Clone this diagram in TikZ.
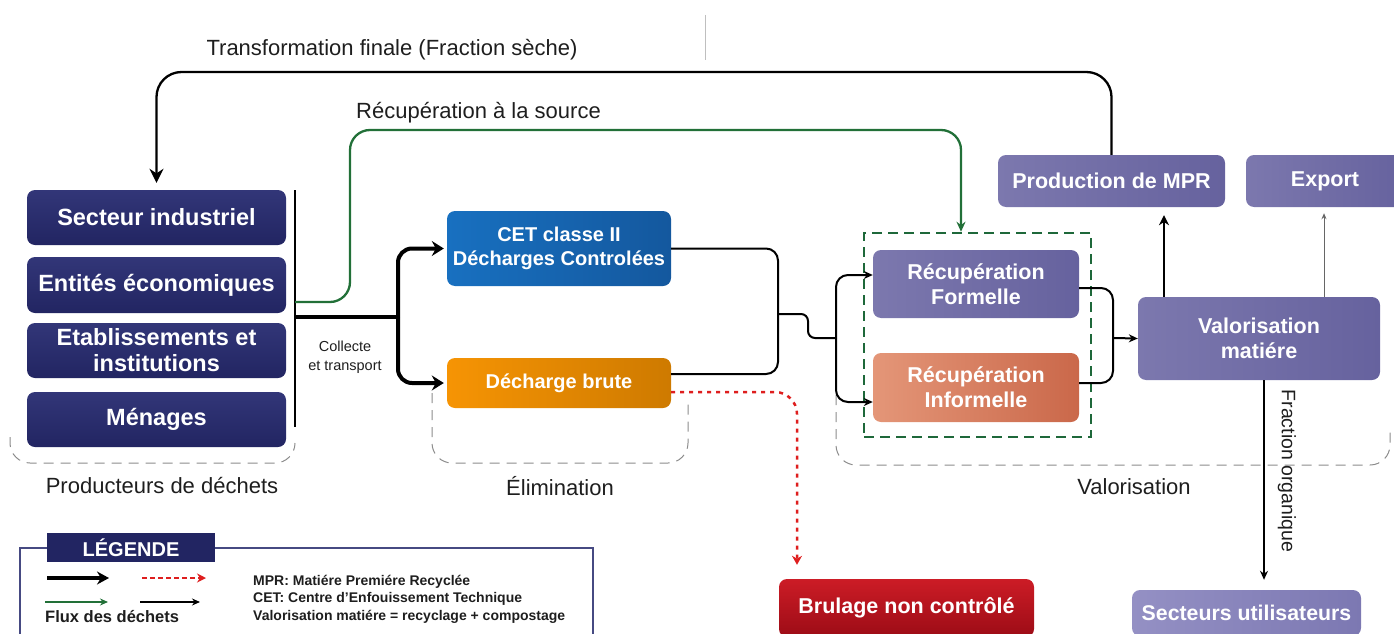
\documentclass[tikz,border=0pt]{standalone}
\usepackage{fontspec}
\setmainfont{Liberation Sans}
\usetikzlibrary{arrows.meta,calc}
\definecolor{navyA}{RGB}{50,54,120}
\definecolor{navyB}{RGB}{34,37,98}
\definecolor{blueA}{RGB}{24,112,192}
\definecolor{blueB}{RGB}{20,88,158}
\definecolor{orA}{RGB}{246,148,4}
\definecolor{orB}{RGB}{206,122,0}
\definecolor{puA}{RGB}{124,120,174}
\definecolor{puB}{RGB}{102,98,158}
\definecolor{saA}{RGB}{228,150,120}
\definecolor{saB}{RGB}{202,104,74}
\definecolor{reA}{RGB}{204,28,38}
\definecolor{reB}{RGB}{156,12,22}
\definecolor{luA}{RGB}{148,144,196}
\definecolor{luB}{RGB}{124,120,178}
\definecolor{gflow}{RGB}{34,112,56}
\definecolor{gbox}{RGB}{30,104,58}
\definecolor{rflow}{RGB}{222,30,30}
\definecolor{brk}{RGB}{140,140,140}
\definecolor{legline}{RGB}{70,74,130}
\definecolor{txt}{RGB}{30,30,30}
\newcommand\myfs[2]{\fontsize{#1}{#2}\selectfont}
\begin{document}
\begin{tikzpicture}[x=1pt,y=-1pt,
  basebox/.style={rounded corners=8pt, text=white, align=center, inner sep=0pt},
  navybox/.style={basebox, shade, top color=navyA, bottom color=navyB, minimum width=259pt, minimum height=55pt, font=\myfs{23.5}{26}\bfseries},
  bluebox/.style={basebox, shade, left color=blueA, right color=blueB, minimum width=224pt, font=\myfs{20}{24}\bfseries},
  orbox/.style={basebox, shade, left color=orA, right color=orB, minimum width=224pt, font=\myfs{20}{24}\bfseries},
  pubox/.style={basebox, shade, left color=puA, right color=puB, font=\myfs{21.5}{25}\bfseries},
  sabox/.style={basebox, shade, left color=saA, right color=saB, font=\myfs{21.5}{25}\bfseries},
  rebox/.style={basebox, shade, top color=reA, bottom color=reB, font=\myfs{21.5}{25}\bfseries},
  lubox/.style={basebox, shade, left color=luA, right color=luB, font=\myfs{21.3}{25}\bfseries},
  lbl/.style={text=txt, inner sep=0pt, font=\myfs{22}{26}},
  flow/.style={line width=2pt, draw=black},
  tip/.style={-{Stealth[length=9pt,width=8pt]}},
  bigtip/.style={-{Stealth[length=12pt,width=15pt,inset=4pt]}},
  bracketline/.style={draw=brk, line width=1pt, dash pattern=on 10pt off 7pt, rounded corners=20pt},
]
\useasboundingbox (0,0) rectangle (1394,634);

% faint artifact line
\draw[black!25, line width=0.8pt] (705,15) -- (705,60);

% grouping brackets
\draw[bracketline] (10,437) -- (10,463) -- (295,463) -- (295,443);
\draw[bracketline] (432,393) -- (432,463) -- (688,463) -- (688,403);
\draw[bracketline] (836,395) -- (836,465) -- (1390,465) -- (1390,430);

% producers
\node[navybox] (sec) at (156.5,217.5) {Secteur industriel};
\node[navybox, minimum height=56pt] (ent) at (156.5,285) {Entités économiques};
\node[navybox] (eta) at (156.5,350.5) {Etablissements et\\institutions};
\node[navybox] (men) at (156.5,419.5) {Ménages};

\coordinate (bartop) at (295,190);
\coordinate (barbot) at (295,427);
\coordinate (gstart) at (295,302);
\coordinate (cstart) at (295,317);
\draw[line width=2.5pt] (bartop) -- (barbot);

% elimination
\node[bluebox, minimum height=75pt] (cet) at (559,248.5) {CET classe II\\Décharges Controlées};
\node[orbox, minimum height=50pt] (dec) at (559,383) {Décharge brute};

% valorisation
\node[draw=gbox, line width=2.5pt, dash pattern=on 10pt off 6pt, minimum width=227pt, minimum height=204pt, inner sep=0pt] (gb) at (977.5,335) {};
\node[pubox, minimum width=206pt, minimum height=68pt] (rf) at (976,284) {Récupération\\Formelle};
\node[sabox, minimum width=206pt, minimum height=69pt] (ri) at (976,387.5) {Récupération\\Informelle};
\node[pubox, minimum width=242pt, minimum height=83pt] (val) at (1259,338.5) {Valorisation\\matiére};
\node[pubox, minimum width=227pt, minimum height=52pt] (mpr) at (1111.5,181) {Production de MPR};
\node[pubox, minimum width=158pt, minimum height=52pt] (exp) at (1325,181) {Export};
\node[rebox, minimum width=255pt, minimum height=58pt] (bru) at (906.5,608) {Brulage non contrôlé};
\node[lubox, minimum width=229pt, minimum height=46pt] (sut) at (1246.5,613) {Secteurs utilisateurs};

% labels
\node[lbl] (ltrans) at (392,50) {Transformation finale (Fraction sèche)};
\node[lbl] (lrec) at (478.5,113) {Récupération à la source};
\node[lbl] (lprod) at (162,486) {Producteurs de déchets};
\node[lbl] (lelim) at (560,486) {Élimination};
\node[lbl] (lval) at (1134,487) {Valorisation};
\node[text=txt, inner sep=0pt, align=center, font=\myfs{14.5}{19}] (lcol) at (345,357) {Collecte\\et transport};
\node[lbl, rotate=-90, font=\myfs{19.5}{22}] (lfrac) at (1287,471) {Fraction organique};

% transformation finale loop
\coordinate (ttop) at (0,72);
\draw[line width=2.3pt, -{Stealth[length=14pt,width=14pt]}, rounded corners=25pt, shorten >=7pt] (mpr.north) -- (mpr.north |- ttop) -| (sec.north);

% green source recovery
\coordinate (gx) at (961,0);
\draw[draw=gflow, line width=2.3pt, rounded corners=20pt, -{Stealth[length=10pt,width=9pt]}] (gstart) -- (350,302) -- (350,130) -- (961,130) -- (gb.north -| gx);

% collecte
\coordinate (cj) at (398,317);
\draw[line width=4pt] (cstart) -- (cj);
\draw[line width=4pt, bigtip, rounded corners=14pt, shorten >=3pt] (cj) |- (cet.west);
\draw[line width=4pt, bigtip, rounded corners=14pt, shorten >=3pt] (cj) |- (dec.west);

% elimination to recuperation
\coordinate (j1) at (778,314);
\coordinate (j2) at (836,338);
\draw[flow, rounded corners=12pt] (cet.east) -| (j1);
\draw[flow, rounded corners=12pt] ([yshift=9pt]dec.east) -| (j1);
\draw[flow, rounded corners=7pt] (j1) -- (808,314) -- (808,338) -- (j2);
\draw[flow, tip, rounded corners=12pt] (j2) |- ([yshift=9pt]rf.west);
\draw[flow, tip, rounded corners=12pt] (j2) |- ([yshift=-14.5pt]ri.west);

% recuperation to valorisation
\coordinate (j3) at (1113,338);
\draw[flow, rounded corners=12pt] ([yshift=-4pt]rf.east) -| (j3);
\draw[flow, rounded corners=12pt] ([yshift=4.5pt]ri.east) -| (j3);
\draw[flow, tip] (j3) -- (val.west);

% valorisation outputs
\draw[line width=2.5pt, -{Stealth[length=10pt,width=10pt]}, shorten >=8pt] ([xshift=-95pt]val.north) -- ([xshift=52.5pt]mpr.south);
\draw[line width=1pt, draw=black!60, -{Stealth[length=6pt,width=5pt]}, shorten >=6pt] ([xshift=65pt]val.north) -- ([xshift=-1pt]exp.south);
\draw[flow, tip, shorten >=10pt] ([xshift=5pt]val.south) -- ([xshift=17.5pt]sut.north);

% red uncontrolled burning
\draw[draw=rflow, line width=2.5pt, dash pattern=on 4pt off 5pt, rounded corners=22pt, shorten >=14pt, -{Stealth[length=9pt,width=10pt]}] ([yshift=-9pt]dec.east) -| ([xshift=-109.5pt]bru.north);

% legend
\draw[draw=legline, line width=1.2pt] (20,634) -- (20,548) -- (593,548) -- (593,634);
\node[basebox, rounded corners=0pt, fill=navyB, minimum width=168pt, minimum height=29pt, font=\myfs{20}{24}\bfseries] (leg) at (131,547.5) {LÉGENDE};
\coordinate (a1s) at (47,578);
\coordinate (a1e) at (109,578);
\coordinate (a2s) at (142,578);
\coordinate (a2e) at (206,578);
\coordinate (a3s) at (45,602);
\coordinate (a3e) at (108,602);
\coordinate (a4s) at (140,602);
\coordinate (a4e) at (200,602);
\draw[line width=4pt, -{Stealth[length=12pt,width=13pt]}] (a1s) -- (a1e);
\draw[draw=rflow, line width=2pt, dash pattern=on 5pt off 3pt, -{Stealth[length=9pt,width=9pt]}] (a2s) -- (a2e);
\draw[draw=gflow, line width=2pt, -{Stealth[length=8pt,width=7pt]}] (a3s) -- (a3e);
\draw[line width=1.6pt, -{Stealth[length=8pt,width=7pt]}] (a4s) -- (a4e);
\node[anchor=west, text=txt, inner sep=0pt, font=\myfs{16.5}{20}\bfseries] (lflux) at (45,617) {Flux des déchets};
\node[anchor=west, align=left, text=txt, inner sep=0pt, font=\myfs{14}{17.5}\bfseries] (ldef) at (253,599) {MPR: Matiére Premiére Recyclée\\CET: Centre d'Enfouissement Technique\\Valorisation matiére = recyclage + compostage};
\end{tikzpicture}
\end{document}
